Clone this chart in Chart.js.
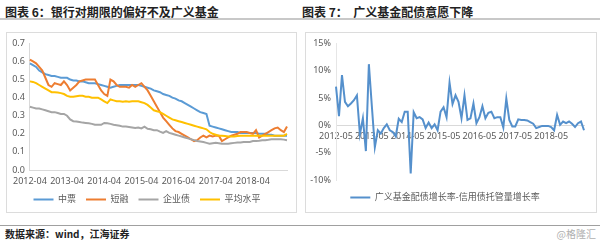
<!DOCTYPE html>
<html>
<head>
<meta charset="utf-8">
<script src="https://cdn.jsdelivr.net/npm/chart.js@4/dist/chart.umd.min.js"></script>
<style>
  body { margin: 0; width: 600px; height: 242px; background: #fff; position: relative; overflow: hidden;
         font-family: "Noto Sans CJK SC", sans-serif; }
  .title { position: absolute; top: 3px; font-size: 12px; font-weight: bold; color: #222; white-space: pre; }
  .rule { position: absolute; left: 0; width: 600px; }
  .box { position: absolute; top: 32px; height: 179px; border: 1px solid #dcdcdc; }
  canvas { position: absolute; }
  .foot { position: absolute; top: 226px; font-size: 10px; }
</style>
</head>
<body>
<div class="title" style="left:5px">图表 6：银行对期限的偏好不及广义基金</div>
<div class="title" style="left:302px">图表 7：  广义基金配债意愿下降</div>
<div class="rule" style="top:18px;height:2px;background:#c8c8c8"></div>
<div class="box" style="left:6px;width:289px"></div>
<div class="box" style="left:305px;width:290px"></div>
<canvas id="leftChart" width="288" height="181" style="left:7px;top:33px"></canvas>
<canvas id="rightChart" width="289" height="179" style="left:306px;top:33px"></canvas>
<div class="rule" style="top:225px;height:1px;background:#a0a0a0"></div>
<div class="foot" style="left:5px;font-weight:bold;color:#222">数据来源：wind，江海证券</div>
<div class="foot" style="right:4px;color:#b0b0b0">@格隆汇</div>

<script>
// months for the two charts
const leftMonths = [];
for (let i = 0; i < 84; i++) {
  const m = 3 + i;
  leftMonths.push(2012 + Math.floor(m / 12) + "-" + String((m % 12) + 1).padStart(2, "0"));
}
const rightMonths = [];
for (let i = 0; i < 84; i++) {
  const m = 4 + i;
  rightMonths.push(2012 + Math.floor(m / 12) + "-" + String((m % 12) + 1).padStart(2, "0"));
}

const seriesNames = ["中票", "短融", "企业债", "平均水平"];
const zhongpiao = [
  0.59, 0.58, 0.57, 0.55, 0.54, 0.53, 0.525, 0.52, 0.52, 0.515, 0.51, 0.51,
  0.51, 0.50, 0.495, 0.495, 0.49, 0.49, 0.485, 0.48, 0.48, 0.48, 0.475, 0.47,
  0.465, 0.46, 0.455, 0.46, 0.465, 0.47, 0.47, 0.47, 0.47, 0.47, 0.47, 0.47,
  0.465, 0.46, 0.455, 0.45, 0.44, 0.435, 0.43, 0.42, 0.415, 0.41, 0.40, 0.395,
  0.385, 0.38, 0.37, 0.36, 0.35, 0.34, 0.33, 0.32, 0.315, 0.31, 0.245, 0.24,
  0.235, 0.23, 0.225, 0.22, 0.215, 0.21, 0.21, 0.21, 0.205, 0.205, 0.205, 0.205,
  0.205, 0.205, 0.20, 0.20, 0.20, 0.195, 0.195, 0.19, 0.19, 0.19, 0.19, 0.19
];
const duanrong = [
  0.61, 0.60, 0.59, 0.57, 0.55, 0.51, 0.47, 0.46, 0.48, 0.475, 0.47, 0.49,
  0.47, 0.44, 0.455, 0.47, 0.49, 0.495, 0.50, 0.50, 0.50, 0.50, 0.47, 0.44,
  0.42, 0.41, 0.50, 0.49, 0.47, 0.46, 0.46, 0.46, 0.455, 0.47, 0.46, 0.47,
  0.48, 0.46, 0.44, 0.41, 0.38, 0.35, 0.32, 0.29, 0.27, 0.25, 0.23, 0.215,
  0.21, 0.20, 0.19, 0.18, 0.17, 0.16, 0.165, 0.18, 0.19, 0.18, 0.19, 0.185,
  0.19, 0.19, 0.16, 0.17, 0.18, 0.19, 0.195, 0.20, 0.21, 0.21, 0.21, 0.205,
  0.20, 0.22, 0.18, 0.19, 0.20, 0.21, 0.22, 0.23, 0.235, 0.22, 0.21, 0.24
];
const qiyezhai = [
  0.35, 0.345, 0.34, 0.34, 0.335, 0.33, 0.325, 0.32, 0.32, 0.315, 0.31, 0.31,
  0.30, 0.28, 0.27, 0.268, 0.265, 0.262, 0.26, 0.258, 0.255, 0.25, 0.25, 0.25,
  0.26, 0.258, 0.255, 0.25, 0.248, 0.245, 0.24, 0.24, 0.238, 0.235, 0.232, 0.235,
  0.23, 0.24, 0.228, 0.225, 0.22, 0.22, 0.212, 0.205, 0.215, 0.205, 0.20, 0.195,
  0.19, 0.185, 0.18, 0.175, 0.17, 0.165, 0.16, 0.158, 0.155, 0.15, 0.145, 0.148,
  0.15, 0.148, 0.145, 0.145, 0.145, 0.148, 0.15, 0.152, 0.152, 0.155, 0.155, 0.155,
  0.16, 0.16, 0.162, 0.165, 0.165, 0.167, 0.17, 0.17, 0.17, 0.17, 0.168, 0.165
];
const pingjun = [
  0.49, 0.487, 0.48, 0.47, 0.46, 0.45, 0.44, 0.43, 0.43, 0.428, 0.425, 0.42,
  0.41, 0.405, 0.405, 0.408, 0.41, 0.41, 0.405, 0.405, 0.40, 0.40, 0.40, 0.39,
  0.38, 0.37, 0.39, 0.385, 0.38, 0.38, 0.378, 0.38, 0.378, 0.38, 0.38, 0.38,
  0.375, 0.37, 0.36, 0.345, 0.33, 0.325, 0.32, 0.31, 0.30, 0.29, 0.28, 0.275,
  0.27, 0.265, 0.26, 0.255, 0.25, 0.245, 0.24, 0.235, 0.23, 0.225, 0.21, 0.20,
  0.195, 0.19, 0.19, 0.188, 0.185, 0.185, 0.185, 0.188, 0.19, 0.19, 0.19, 0.19,
  0.19, 0.19, 0.19, 0.19, 0.19, 0.19, 0.19, 0.19, 0.19, 0.19, 0.19, 0.20
];
const leftTicks = [0, 0.1, 0.2, 0.3, 0.4, 0.5, 0.6, 0.7];

const spreadName = "广义基金配债增长率-信用债托管量增长率";
const spread = [
  7.1, 1.7, 9.2, 4.3, 3.5, 4.0, 4.6, 5.5, -1.6, 1.3, -4.7, 11.2,
  3.5, -4.0, -0.9, -1.5, -0.5, 0.2, -0.9, -1.2, -2.0, 1.2, 0.6, 2.5,
  2.5, -8.8, 2.4, 1.3, 1.5, 1.1, -0.5, 0.5, -0.5, 0.2, -0.9, 2.5,
  3.3, 1.5, 7.8, 3.9, 5.5, 4.3, 1.3, 5.5, 1.0, 1.3, 4.0, 0.4,
  1.5, 3.5, 1.3, 2.3, 2.5, 1.3, 1.5, 1.5, -0.4, 4.9, 1.0, -0.2,
  -0.2, 1.1, 1.0, 1.0, 0.9, 0.6, 0.3, -0.5, -0.3, -0.1, -0.1, -0.1,
  -0.3, -0.9, 1.9, 0.1, 0.7, 0.4, 0.7, 0.3, -0.3, 0.4, 0.7, -0.9
];
const rightTicks = [-10, -5, 0, 5, 10, 15];

Chart.defaults.font.family = '"Noto Sans", "Noto Sans CJK SC", sans-serif';
Chart.defaults.font.size = 9;
Chart.defaults.color = "#595959";
Chart.defaults.animation = false;

const lineDs = (label, data, color, order) => ({
  label: label,
  data: data,
  borderColor: color,
  backgroundColor: color,
  borderWidth: 2,
  pointRadius: 0,
  tension: 0,
  fill: false,
  order: order,
});

// left: term preference
new Chart(document.getElementById("leftChart").getContext("2d"), {
  type: "line",
  data: {
    labels: leftMonths,
    datasets: [
      lineDs(seriesNames[0], zhongpiao, "#5B9BD5", 4),
      lineDs(seriesNames[1], duanrong, "#ED7D31", 3),
      lineDs(seriesNames[2], qiyezhai, "#A5A5A5", 2),
      lineDs(seriesNames[3], pingjun, "#FFC000", 1),
    ],
  },
  options: {
    responsive: false,
    layout: { padding: { top: 9, right: 8, left: 0, bottom: 0 } },
    plugins: {
      tooltip: { enabled: false },
      legend: {
        position: "bottom",
        labels: {
          usePointStyle: true,
          pointStyle: "line",
          pointStyleWidth: 20,
          padding: 10,
          sort: (a, b) => a.datasetIndex - b.datasetIndex,
        },
      },
    },
    scales: {
      x: {
        grid: { display: false, drawTicks: false },
        border: { display: true, color: "#d9d9d9" },
        ticks: {
          autoSkip: false,
          maxRotation: 0,
          padding: 6,
          callback: (v, i) => (i % 12 === 0 ? leftMonths[i] : ""),
        },
        afterFit: (s) => { s.height = 15; },
      },
      y: {
        min: 0,
        max: 0.7,
        grid: { display: false, drawTicks: false },
        border: { display: true, color: "#d9d9d9" },
        afterBuildTicks: (s) => { s.ticks = leftTicks.map((v) => ({ value: v })); },
        ticks: { padding: 5, callback: (v) => v.toFixed(1) },
        afterFit: (s) => { s.width = 22; },
      },
    },
  },
});

// right: spread of growth rates
new Chart(document.getElementById("rightChart").getContext("2d"), {
  type: "line",
  data: {
    labels: rightMonths,
    datasets: [lineDs(spreadName, spread, "#5590CC", 1)],
  },
  options: {
    responsive: false,
    layout: { padding: { top: 10, right: 11, left: 0, bottom: 0 } },
    plugins: {
      tooltip: { enabled: false },
      legend: {
        position: "bottom",
        labels: {
          usePointStyle: true,
          pointStyle: "line",
          pointStyleWidth: 20,
          padding: 13,
        },
      },
    },
    scales: {
      x: {
        position: { y: 0 },
        grid: { display: false, drawTicks: false },
        border: { display: true, color: "#d9d9d9" },
        ticks: {
          autoSkip: false,
          maxRotation: 0,
          padding: 6,
          callback: (v, i) => (i % 12 === 0 ? rightMonths[i] : ""),
        },
      },
      y: {
        min: -10,
        max: 15,
        grid: { display: false, drawTicks: false },
        border: { display: true, color: "#e6e6e6" },
        afterBuildTicks: (s) => { s.ticks = rightTicks.map((v) => ({ value: v })); },
        ticks: { padding: 5, callback: (v) => v + "%" },
        afterFit: (s) => { s.width = 30; },
      },
    },
  },
});
</script>
</body>
</html>
